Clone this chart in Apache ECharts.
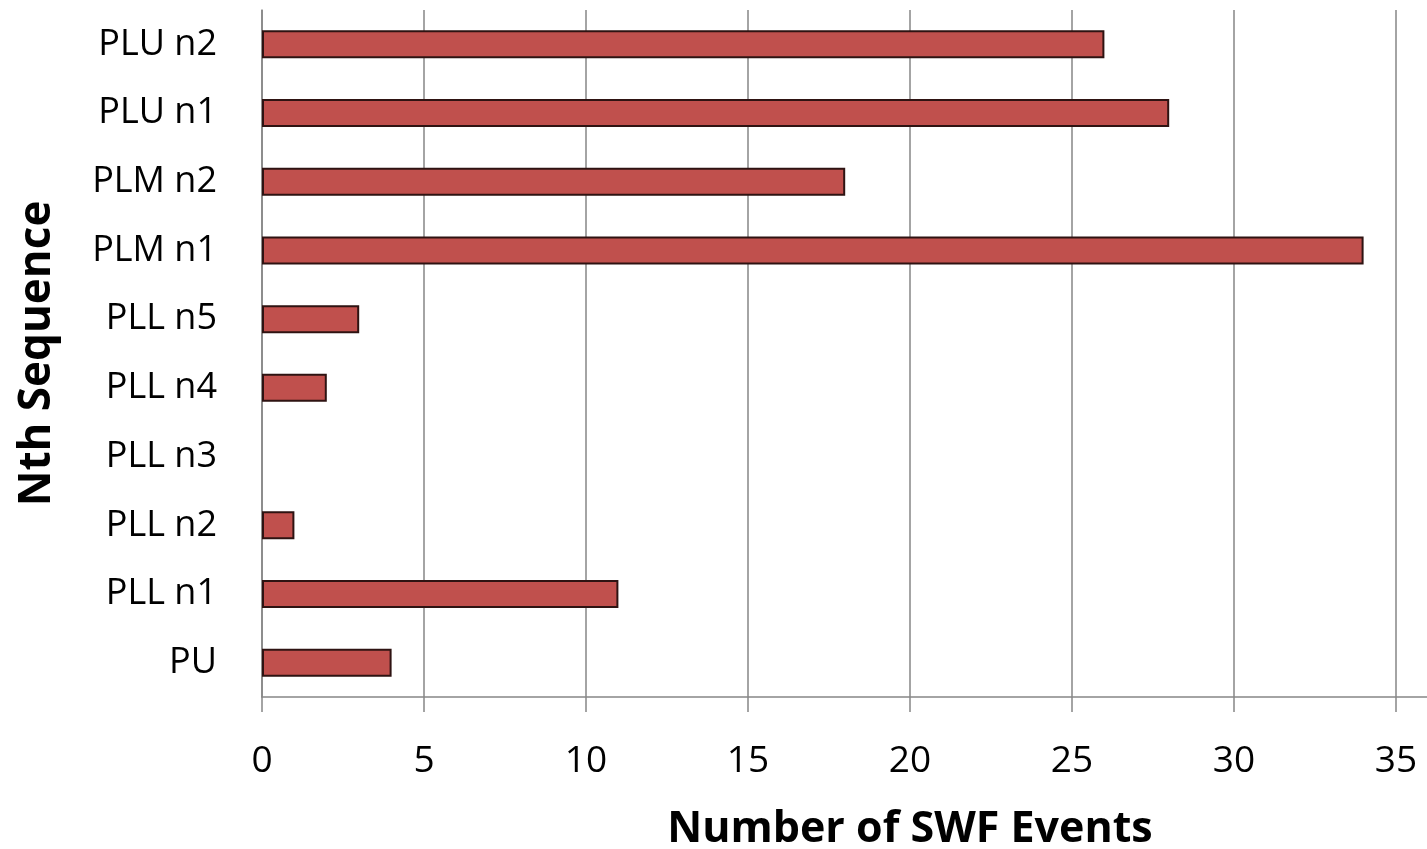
<!DOCTYPE html>
<html>
<head>
<meta charset="utf-8">
<script src="https://cdn.jsdelivr.net/npm/echarts@6/dist/echarts.min.js"></script>
<style>
  html, body { margin: 0; padding: 0; background: #ffffff; }
  #chart { width: 1427px; height: 849px; }
</style>
</head>
<body>
<div id="chart"></div>
<script>
// Sequence categories, listed bottom to top
const categories = ['PU', 'PLL n1', 'PLL n2', 'PLL n3', 'PLL n4', 'PLL n5', 'PLM n1', 'PLM n2', 'PLU n1', 'PLU n2'];
// Number of SWF events per sequence
const swfEvents = [4, 11, 1, 0, 2, 3, 34, 18, 28, 26];
// Value axis range
const xMin = 0;
const xMax = 40;
const xStep = 5;

const FONT = '"Open Sans", "Liberation Sans", sans-serif';

// Zero-valued bars get no outline so they leave no sliver at the axis
const barData = swfEvents.map(v => v === 0 ? { value: v, itemStyle: { borderWidth: 0 } } : v);

const chart = echarts.init(document.getElementById('chart'), null, { renderer: 'canvas' });
chart.setOption({
  backgroundColor: '#ffffff',
  animation: false,
  grid: { left: 262, top: 10, height: 687, width: 1296, containLabel: false, outerBoundsMode: 'none' },
  xAxis: {
    type: 'value',
    min: xMin,
    max: xMax,
    interval: xStep,
    name: 'Number of SWF Events',
    nameLocation: 'middle',
    nameGap: 111,
    nameTextStyle: { fontFamily: FONT, fontSize: 43, fontWeight: 'bold', color: '#000' },
    axisLine: { show: true, lineStyle: { color: '#868686', width: 1.5 } },
    axisTick: { show: true, length: 15, lineStyle: { color: '#868686', width: 1.5 } },
    axisLabel: { fontFamily: FONT, fontSize: 37, color: '#000', margin: 46 },
    splitLine: { show: true, lineStyle: { color: '#868686', width: 1.5 } }
  },
  yAxis: {
    type: 'category',
    data: categories,
    name: 'Nth Sequence',
    nameLocation: 'middle',
    nameRotate: 90,
    nameGap: 203,
    nameTextStyle: { fontFamily: FONT, fontSize: 44, fontWeight: 'bold', color: '#000' },
    axisLine: { show: true, onZero: false, lineStyle: { color: '#868686', width: 1.5 } },
    axisTick: { show: false },
    axisLabel: { fontFamily: FONT, fontSize: 36, color: '#000', margin: 45 },
    splitLine: { show: false }
  },
  series: [{
    type: 'bar',
    data: barData,
    barWidth: 28,
    itemStyle: { color: '#C0504D', borderColor: '#2e1312', borderWidth: 2 }
  }]
});
</script>
</body>
</html>
